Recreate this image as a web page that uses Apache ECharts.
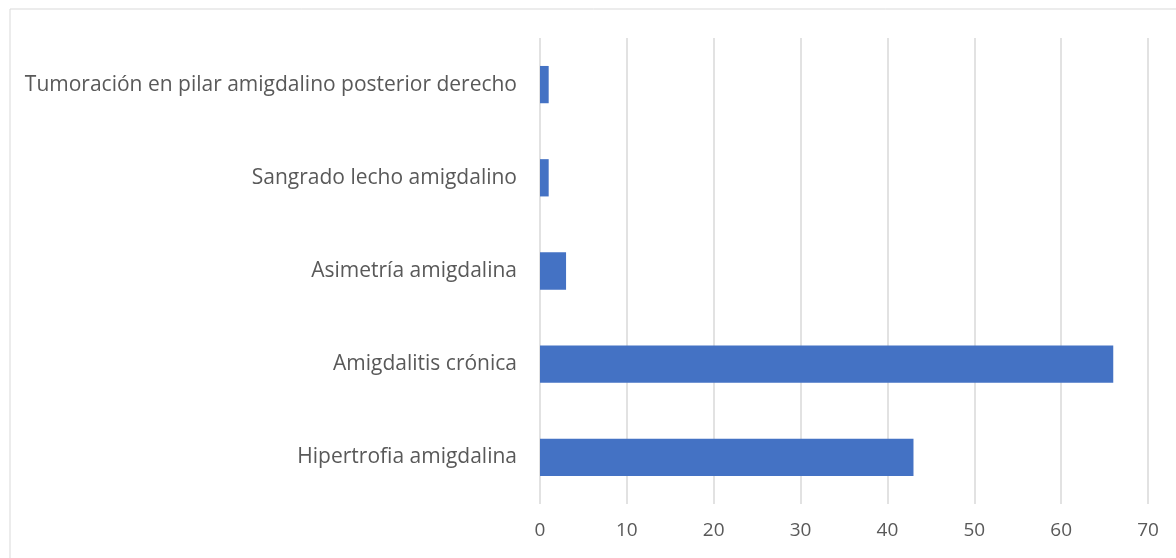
<!DOCTYPE html>
<html>
<head>
<meta charset="utf-8">
<script src="https://cdn.jsdelivr.net/npm/echarts@6/dist/echarts.min.js"></script>
<style>
  html, body { margin: 0; padding: 0; background: #fff; }
  #chart { width: 1176px; height: 558px; }
</style>
</head>
<body>
<div id="chart"></div>
<script>
// Categories listed bottom to top, as the y axis draws them
const categories = [
  'Hipertrofia amigdalina',
  'Amigdalitis crónica',
  'Asimetría amigdalina',
  'Sangrado lecho amigdalino',
  'Tumoración en pilar amigdalino posterior derecho'
];
const counts = [43, 66, 3, 1, 1];
const xTicks = [0, 10, 20, 30, 40, 50, 60, 70];

const FONT = '"Open Sans", "Noto Sans", sans-serif';
const chart = echarts.init(document.getElementById('chart'));

chart.setOption({
  animation: false,
  backgroundColor: '#fff',
  graphic: [{
    type: 'rect',
    shape: { x: 10, y: 9, width: 1200, height: 600 },
    style: { fill: 'none', stroke: '#d9d9d9', lineWidth: 1 },
    silent: true
  }],
  grid: { left: 540, right: 28, top: 38, bottom: 54, containLabel: false },
  xAxis: {
    type: 'value',
    min: xTicks[0],
    max: xTicks[xTicks.length - 1],
    interval: 10,
    axisLine: { show: false },
    axisTick: { show: false },
    splitLine: { show: true, lineStyle: { color: '#d9d9d9', width: 1.5 } },
    axisLabel: { color: '#595959', fontSize: 19, fontFamily: FONT, margin: 17 }
  },
  yAxis: {
    type: 'category',
    data: categories,
    axisLine: { show: false },
    axisTick: { show: false },
    axisLabel: { color: '#595959', fontSize: 21, fontFamily: FONT, margin: 23 }
  },
  series: [{
    type: 'bar',
    data: counts,
    barCategoryGap: '60%',
    itemStyle: { color: '#4472c4' }
  }]
});
</script>
</body>
</html>
